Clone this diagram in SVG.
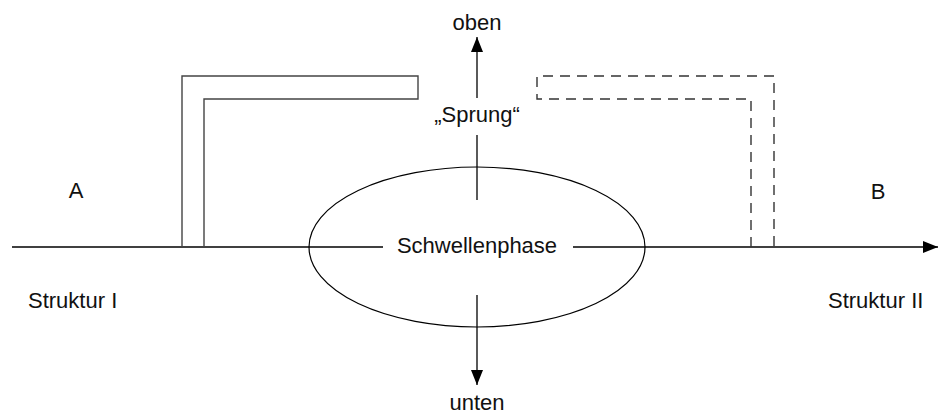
<svg xmlns="http://www.w3.org/2000/svg" width="938" height="414" viewBox="0 0 938 414">
<style>
text{font-family:"Liberation Sans",Arial,sans-serif;font-size:22px;fill:#111}
.c{text-anchor:middle}
.ln{stroke:#000;stroke-width:1.3;fill:none}
.solid{stroke:#444;stroke-width:1.4;fill:none}
.dash{stroke:#333;stroke-width:1.4;fill:none;stroke-dasharray:10 7}
</style>
<defs>
<marker id="ah" viewBox="0 0 15 12" refX="15" refY="6" markerWidth="15" markerHeight="12" markerUnits="userSpaceOnUse" orient="auto">
<path d="M0,0 L15,6 L0,12 Z" fill="#000"/>
</marker>
</defs>
<g id="connectors">
<line class="ln" x1="12" y1="247" x2="383" y2="247"/>
<line class="ln" x1="573" y1="247" x2="938" y2="247" marker-end="url(#ah)"/>
<line class="ln" x1="477" y1="98" x2="477" y2="37" marker-end="url(#ah)"/>
<line class="ln" x1="477" y1="135" x2="477" y2="200"/>
<line class="ln" x1="477" y1="295" x2="477" y2="385" marker-end="url(#ah)"/>
</g>
<g id="struktur-solid">
<path class="solid" d="M182,247 V76 H418 V99 H204 V247"/>
</g>
<g id="struktur-dashed">
<path class="dash" d="M751,247 V99 H537 V76 H774 V247"/>
</g>
<g id="schwellenphase">
<ellipse cx="477" cy="247" rx="168" ry="80" fill="none" stroke="#000" stroke-width="1.2"/>
<text class="c" x="477" y="253">Schwellenphase</text>
</g>
<g id="label-oben"><text class="c" x="477" y="30">oben</text></g>
<g id="label-sprung"><text class="c" x="477" y="122">„Sprung“</text></g>
<g id="label-unten"><text class="c" x="477" y="410">unten</text></g>
<g id="label-A"><text class="c" x="76" y="198">A</text></g>
<g id="label-B"><text class="c" x="878" y="199">B</text></g>
<g id="label-struktur1"><text x="28" y="308">Struktur I</text></g>
<g id="label-struktur2"><text x="828" y="308">Struktur II</text></g>
</svg>
